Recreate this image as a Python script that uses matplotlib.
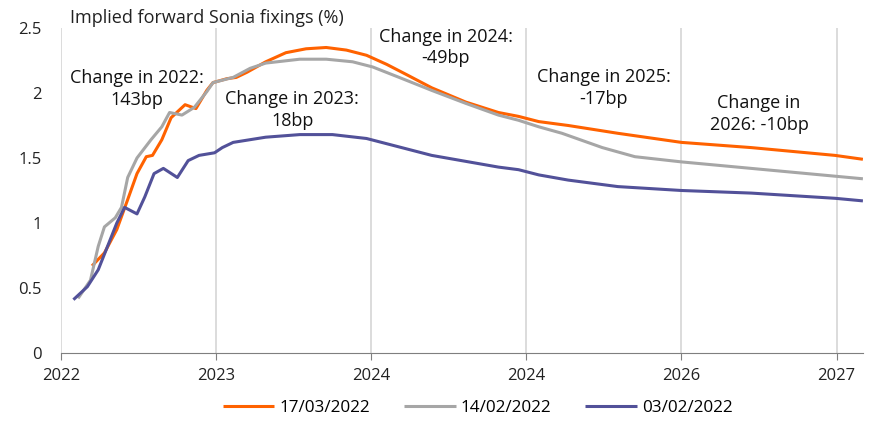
import matplotlib.pyplot as plt
import numpy as np

plt.rcParams['font.family'] = ['Open Sans', 'DejaVu Sans']

# Fechas en años decimales y valores (%)
x_mar17 = [2022.20, 2022.28, 2022.36, 2022.43, 2022.49, 2022.55, 2022.59, 2022.65,
           2022.71, 2022.80, 2022.87, 2022.94, 2022.98, 2023.07, 2023.13, 2023.20,
           2023.32, 2023.45, 2023.58, 2023.71, 2023.84, 2023.97, 2024.10, 2024.23,
           2024.39, 2024.61, 2024.82, 2024.95, 2025.08, 2025.27, 2025.59, 2026.00,
           2026.45, 2026.99, 2027.17]
y_mar17 = [0.67, 0.77, 0.95, 1.18, 1.38, 1.51, 1.52, 1.64,
           1.81, 1.91, 1.88, 2.02, 2.08, 2.11, 2.12, 2.16,
           2.24, 2.31, 2.34, 2.35, 2.33, 2.29, 2.22, 2.14,
           2.04, 1.93, 1.85, 1.82, 1.78, 1.75, 1.69, 1.62,
           1.58, 1.52, 1.49]

x_feb14 = [2022.11, 2022.19, 2022.24, 2022.28, 2022.35, 2022.39, 2022.43, 2022.49,
           2022.58, 2022.65, 2022.70, 2022.78, 2022.86, 2022.94, 2022.98, 2023.11,
           2023.22, 2023.32, 2023.54, 2023.71, 2023.88, 2024.01, 2024.18, 2024.39,
           2024.61, 2024.82, 2024.95, 2025.08, 2025.23, 2025.49, 2025.70, 2026.00,
           2026.45, 2026.99, 2027.17]
y_feb14 = [0.42, 0.56, 0.82, 0.97, 1.04, 1.12, 1.35, 1.50,
           1.64, 1.74, 1.85, 1.83, 1.89, 2.01, 2.08, 2.12,
           2.19, 2.23, 2.26, 2.26, 2.24, 2.20, 2.12, 2.02,
           1.92, 1.83, 1.79, 1.74, 1.69, 1.58, 1.51, 1.47,
           1.42, 1.36, 1.34]

x_feb03 = [2022.08, 2022.17, 2022.24, 2022.30, 2022.36, 2022.41, 2022.49, 2022.54,
           2022.60, 2022.66, 2022.75, 2022.82, 2022.89, 2022.99, 2023.04, 2023.11,
           2023.32, 2023.54, 2023.75, 2023.97, 2024.39, 2024.82, 2024.95, 2025.08,
           2025.27, 2025.59, 2026.00, 2026.45, 2026.99, 2027.17]
y_feb03 = [0.41, 0.51, 0.64, 0.82, 1.00, 1.12, 1.07, 1.20,
           1.38, 1.42, 1.35, 1.48, 1.52, 1.54, 1.58, 1.62,
           1.66, 1.68, 1.68, 1.65, 1.52, 1.43, 1.41, 1.37,
           1.33, 1.28, 1.25, 1.23, 1.19, 1.17]

series_labels = ['17/03/2022', '14/02/2022', '03/02/2022']
series_colors = ['#FF6200', '#A6A6A6', '#525199']

xtick_pos = [2022, 2023, 2024, 2025, 2026, 2027]
xtick_labels = ['2022', '2023', '2024', '2024', '2026', '2027']
ytick_pos = [0, 0.5, 1, 1.5, 2, 2.5]
ytick_labels = ['0', '0.5', '1', '1.5', '2', '2.5']

notes = [
    (2022.49, 2.03, 'Change in 2022:\n143bp'),
    (2023.49, 1.87, 'Change in 2023:\n18bp'),
    (2024.48, 2.35, 'Change in 2024:\n-49bp'),
    (2025.50, 2.04, 'Change in 2025:\n-17bp'),
    (2026.50, 1.84, 'Change in\n2026: -10bp'),
]

fig = plt.figure(figsize=(8.93, 4.36), dpi=100)
ax = fig.add_axes([0.0683, 0.1904, 0.898, 0.7454])

for xs, ys, lab, col in zip([x_mar17, x_feb14, x_feb03], [y_mar17, y_feb14, y_feb03],
                            series_labels, series_colors):
    ax.plot(xs, ys, color=col, lw=2.2, label=lab, solid_capstyle='butt',
            solid_joinstyle='round')

ax.set_xlim(2022, 2027.17)
ax.set_ylim(0, 2.5)
ax.set_xticks(xtick_pos)
ax.set_xticklabels(xtick_labels)
ax.set_yticks(ytick_pos)
ax.set_yticklabels(ytick_labels)
ax.grid(axis='x', color='#D9D9D9', lw=1.3)
ax.set_axisbelow(True)
for s in ['left', 'right', 'top']:
    ax.spines[s].set_visible(False)
ax.spines['bottom'].set_color('#7F7F7F')
ax.tick_params(axis='x', colors='#7F7F7F', labelcolor='#222222', length=5,
               labelsize=12, pad=6)
ax.tick_params(axis='y', length=0, labelcolor='#222222', labelsize=12, pad=14)

for nx, ny, txt in notes:
    ax.text(nx, ny, txt, ha='center', va='center', fontsize=13, color='#111111',
            linespacing=1.25)

fig.text(0.078, 0.958, 'Implied forward Sonia fixings (%)', ha='left', va='center',
         fontsize=13, color='#222222')

fig.legend(loc='center', bbox_to_anchor=(0.535, 0.064), ncol=3, frameon=False,
           fontsize=12.3, handlelength=3.0, handletextpad=0.3, columnspacing=2.0)

fig.savefig('out.png', dpi=100)
